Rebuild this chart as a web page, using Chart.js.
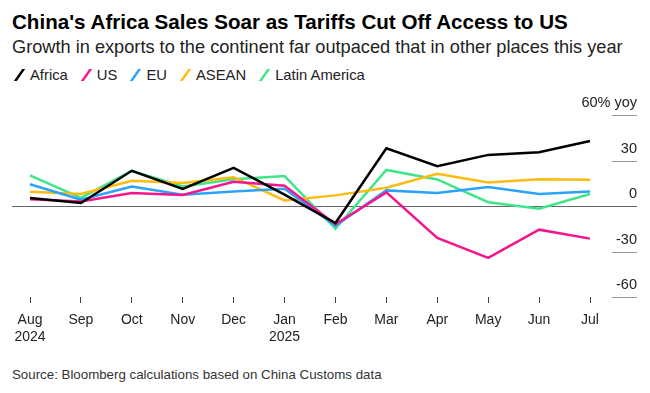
<!DOCTYPE html>
<html>
<head>
<meta charset="utf-8">
<script src="https://cdn.jsdelivr.net/npm/chart.js@4.4.1/dist/chart.umd.min.js"></script>
<style>
  body { margin: 0; width: 650px; height: 393px; background: #fff; position: relative; overflow: hidden;
         font-family: 'Liberation Sans', Arial, sans-serif; color: #000; }
  .title { position: absolute; left: 12px; top: 10px; font-size: 20.6px; font-weight: bold; }
  .subtitle { position: absolute; left: 12px; top: 37px; font-size: 18.2px; color: #222; }
  .legend { position: absolute; left: 12px; top: 67px; font-size: 14.8px; color: #222; display: flex; }
  .legend span.item { display: flex; align-items: center; margin-right: 11px; }
  .legend span.mark { display: inline-block; width: 3px; height: 12px; margin: 0 9px 0 6px; transform: skewX(-35deg); }
  .source { position: absolute; left: 12px; top: 367px; font-size: 13.3px; color: #333; }
  #wrap { position: absolute; left: 0; top: 85px; width: 650px; height: 270px; }
</style>
</head>
<body>
<div class="title">China's Africa Sales Soar as Tariffs Cut Off Access to US</div>
<div class="subtitle">Growth in exports to the continent far outpaced that in other places this year</div>
<div class="legend" id="legend"></div>
<div id="wrap"><canvas id="chart" width="650" height="270"></canvas></div>
<div class="source">Source: Bloomberg calculations based on China Customs data</div>
<script>
const months = [['Aug', '2024'], 'Sep', 'Oct', 'Nov', 'Dec', ['Jan', '2025'], 'Feb', 'Mar', 'Apr', 'May', 'Jun', 'Jul'];
const africa = [5.3, 2.0, 23.2, 11.2, 25.2, 7.5, -11.2, 38.1, 26.3, 33.7, 35.5, 42.9];
const us = [4.5, 3.0, 8.5, 7.2, 16.0, 13.3, -12.0, 9.0, -21.0, -34.2, -15.6, -21.5];
const eu = [14.3, 4.1, 12.9, 7.4, 9.6, 11.3, -13.0, 10.3, 8.5, 12.5, 7.9, 9.6];
const asean = [9.4, 7.9, 16.6, 15.1, 19.0, 3.7, 7.0, 12.0, 21.2, 15.5, 17.7, 17.3];
const latam = [20.2, 5.3, 23.2, 12.9, 17.7, 19.7, -15.0, 23.8, 17.5, 2.5, -1.8, 7.9];
const yTicks = [60, 30, 0, -30, -60];
const yTickLabels = ['60% yoy', '30', '0', '-30', '-60'];

const series = [
  { label: 'Africa', data: africa, color: '#000000' },
  { label: 'US', data: us, color: '#f5168d' },
  { label: 'EU', data: eu, color: '#2ba3fb' },
  { label: 'ASEAN', data: asean, color: '#fdbb0f' },
  { label: 'Latin America', data: latam, color: '#3fe58a' }
];

// html legend with slanted line markers
const legendEl = document.getElementById('legend');
series.forEach(s => {
  const item = document.createElement('span');
  item.className = 'item';
  item.innerHTML = `<span class="mark" style="background:${s.color}"></span>${s.label}`;
  legendEl.appendChild(item);
});

// right side y labels sit above short tick lines, zero line runs full width
const yLines = {
  id: 'yLines',
  beforeDatasetsDraw(chart) {
    const ctx = chart.ctx;
    const y = chart.scales.y;
    ctx.save();
    ctx.font = '14.5px "Liberation Sans"';
    ctx.fillStyle = '#222';
    ctx.textAlign = 'right';
    ctx.textBaseline = 'middle';
    yTicks.forEach((v, i) => {
      const py = Math.round(y.getPixelForValue(v)) + 0.5;
      ctx.beginPath();
      ctx.lineWidth = 1;
      if (v === 0) {
        ctx.strokeStyle = '#666';
        ctx.moveTo(12, py);
      } else {
        ctx.strokeStyle = '#999';
        ctx.moveTo(612, py);
      }
      ctx.lineTo(637, py);
      ctx.stroke();
      ctx.fillText(yTickLabels[i], 637, py - 13);
    });
    ctx.restore();
  }
};

new Chart(document.getElementById('chart'), {
  type: 'line',
  data: {
    labels: months,
    datasets: series.map(s => ({
      label: s.label,
      data: s.data,
      borderColor: s.color,
      backgroundColor: s.color,
      borderWidth: 2.5,
      pointRadius: 0,
      tension: 0
    }))
  },
  options: {
    responsive: false,
    animation: false,
    layout: { padding: { top: 30, left: 30, right: 13, bottom: 0 } },
    plugins: { legend: { display: false }, tooltip: { enabled: false } },
    scales: {
      x: {
        offset: false,
        border: { display: false },
        grid: { drawOnChartArea: false, drawTicks: true, tickLength: 6, color: '#444' },
        ticks: { color: '#222', font: { family: 'Liberation Sans', size: 14 }, padding: 9, maxRotation: 0, autoSkip: false },
        afterFit: s => { s.height = 58; }
      },
      y: {
        position: 'right',
        min: -60,
        max: 60,
        border: { display: false },
        grid: { display: false },
        ticks: { display: false },
        afterFit: s => { s.width = 47; }
      }
    }
  },
  plugins: [yLines]
});
</script>
</body>
</html>
